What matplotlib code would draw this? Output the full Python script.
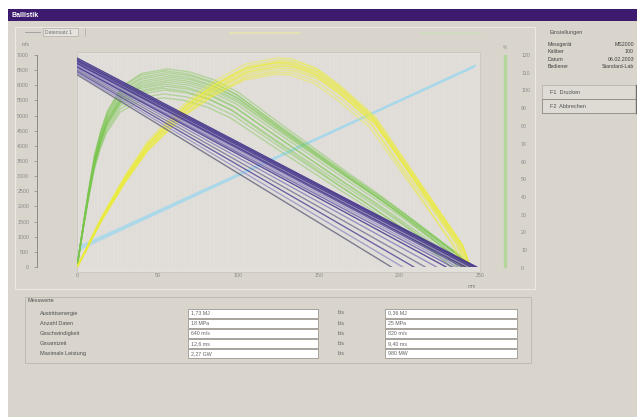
import matplotlib
matplotlib.use('Agg')
import matplotlib.pyplot as plt
import numpy as np
from matplotlib.patches import Rectangle

plt.rcParams['font.family'] = ['Liberation Sans', 'DejaVu Sans']

# --- data ---
# purple: straight falling lines, start value at x=0 and x where they reach 0
purple_start = [6900, 6850, 6820, 6800, 6770, 6750, 6720, 6700, 6660, 6620, 6600, 6550, 6500, 6450, 6400, 6350]
purple_end = [248, 247, 246, 245, 244, 243, 241, 239, 236, 233, 229, 223, 216, 209, 202, 195]
purple_colors = ['#3b2a82', '#4a3a90', '#3b2a82', '#6f62aa', '#2f2170', '#8a80bb', '#3b2a82', '#5b4c9c',
                 '#9c94c4', '#6f62aa', '#4a3a90', '#8a80bb', '#7a7898', '#5b4c9c', '#9c94c4', '#6a6a80']

# green: fast rising curves, base profile
green_x = [0, 4, 7, 11, 15, 19, 28, 40, 56, 70, 85, 100, 126, 150, 170, 188, 205, 220, 235, 244]
green_y = [0, 1400, 2400, 3600, 4400, 5000, 5800, 6200, 6350, 6250, 6000, 5600, 4600, 3700, 2950, 2300, 1650, 1050, 450, 0]
green_yscale = [0.88, 0.90, 0.92, 0.94, 0.96, 0.97, 0.98, 0.99, 1.0, 1.01, 1.02, 1.03, 0.93, 0.95]
green_xscale = [0.95, 0.96, 0.97, 0.98, 0.99, 1.0, 1.0, 1.005, 0.99, 1.0, 0.985, 1.0, 0.95, 0.97]

# yellow: slower rising curves, base profile
yellow_x = [0, 5, 10, 15.5, 30, 44, 56, 69, 86, 106, 126, 135, 150, 164, 185, 205, 222, 239, 244]
yellow_y = [0, 500, 1050, 1620, 2940, 4030, 4690, 5350, 6000, 6570, 6770, 6740, 6450, 5900, 4920, 3370, 2050, 730, 0]
yellow_yscale = [0.94, 0.95, 0.96, 0.97, 0.98, 0.99, 1.0, 1.0, 1.01, 1.02, 0.98, 0.995]
yellow_xscale = [0.98, 0.99, 1.0, 0.995, 1.0, 1.0, 0.99, 1.0, 1.0, 0.985, 0.995, 0.975]

# light blue: rising straight lines
blue_x = [[2, 247], [3, 246]]
blue_y = [[600, 6650], [700, 6600]]

x_ticks = [0, 50, 100, 150, 200, 250]
y_ticks = list(range(0, 7001, 500))
right_ticks = list(range(0, 121, 10))

settings_labels = ['Messgerät', 'Kaliber', 'Datum', 'Bediener']
settings_values = ['MS2000', '100', '06.02.2003', 'Standard-Lab']
meas_labels = ['Austrittsenergie', 'Anzahl Daten', 'Geschwindigkeit', 'Gesamtzeit', 'Maximale Leistung']
meas_val1 = ['1,73 MJ', '18 MPa', '640 m/s', '12,6 ms', '2,27 GW']
meas_units = ['bis', 'bis', 'bis', 'bis', 'bis']
meas_val2 = ['0,36 MJ', '25 MPa', '820 m/s', '9,40 ms', '980 MW']

W, H = 637, 417
fig = plt.figure(figsize=(W / 100, H / 100), dpi=100)
fig.patch.set_facecolor('white')

# UI background layer in pixel coordinates
ui = fig.add_axes([0, 0, 1, 1], zorder=0)
ui.set_xlim(0, W)
ui.set_ylim(H, 0)
ui.axis('off')
ui.add_patch(Rectangle((8, 21), W - 8, H - 21, facecolor='#d9d5cd', edgecolor='none'))
ui.add_patch(Rectangle((8, 9), W - 8, 12, facecolor='#3c1a6e', edgecolor='none'))
ui.text(11, 15, 'Ballistik', color='white', fontsize=5, fontweight='bold', va='center')

# chart group
ui.add_patch(Rectangle((15, 27), 520, 262, facecolor='none', edgecolor='#ece9e4', lw=0.8))
ui.plot([25, 40], [32, 32], color='#9a9a9a', lw=0.6)
ui.add_patch(Rectangle((43, 28), 35, 8, facecolor='#e6e3de', edgecolor='#b0aca6', lw=0.5))
ui.text(45, 32, 'Datensatz 1', fontsize=3.6, color='#707070', va='center')
ui.plot([85, 85], [28, 36], color='#b0aca6', lw=0.5)
ui.plot([230, 300], [33, 33], color='#f0f0a0', lw=1.2, alpha=0.6)
ui.plot([420, 480], [33, 33], color='#c8e4b4', lw=1.2, alpha=0.6)
ui.text(22, 44, 'm/s', fontsize=3.5, color='#808080', va='center')
ui.add_patch(Rectangle((77, 52), 403, 220, facecolor='#e2dfdb', edgecolor='#c9c6c0', lw=0.6))
ui.text(472, 287, 'mm', fontsize=3.5, color='#808080', ha='center', va='center')

# settings panel
ui.text(549, 32, 'Einstellungen', fontsize=4, color='#505050', va='center')
for i, (lab, val) in enumerate(zip(settings_labels, settings_values)):
    yy = 44 + i * 7.6
    ui.text(548, yy, lab, fontsize=3.8, color='#404040', va='center')
    ui.text(634, yy, val, fontsize=3.8, color='#404040', va='center', ha='right')
ui.add_patch(Rectangle((542, 85), 95, 14, facecolor='#dedbd4', edgecolor='#b8b4ac', lw=0.6))
ui.add_patch(Rectangle((542, 99), 95, 14, facecolor='#dedbd4', edgecolor='#8c8880', lw=0.6))
ui.text(550, 92, 'F1  Drucken', fontsize=4, color='#505050', va='center')
ui.text(550, 106, 'F2  Abbrechen', fontsize=4, color='#505050', va='center')
ui.plot([636, 636], [85, 113], color='#707070', lw=1)

# measurement group
ui.add_patch(Rectangle((25, 297), 506, 66, facecolor='none', edgecolor='#bcb8b0', lw=0.6))
ui.text(28, 301, 'Messwerte', fontsize=4, color='#505050', va='center')
for i in range(len(meas_labels)):
    yy = 313 + i * 10.2
    ui.text(40, yy, meas_labels[i], fontsize=4, color='#505050', va='center')
    ui.add_patch(Rectangle((188, yy - 4.5), 130, 9, facecolor='white', edgecolor='#8c8880', lw=0.5))
    ui.text(191, yy, meas_val1[i], fontsize=3.8, color='#606060', va='center')
    ui.text(338, yy, meas_units[i], fontsize=3.8, color='#606060', va='center')
    ui.add_patch(Rectangle((385, yy - 4.5), 132, 9, facecolor='white', edgecolor='#8c8880', lw=0.5))
    ui.text(388, yy, meas_val2[i], fontsize=3.8, color='#606060', va='center')

# main chart
ax = fig.add_axes([77 / W, (H - 267) / H, 403 / W, 212 / H], zorder=1)
ax.patch.set_alpha(0)
ax.set_xlim(0, 250)
ax.set_ylim(0, 7000)
for v in range(0, 251, 2):
    ax.axvline(v, color='#d9d6d2', lw=0.3, zorder=0)

for x, y in zip(blue_x, blue_y):
    ax.plot(x, y, color='#a6d8ea', lw=1.6, alpha=0.85, solid_capstyle='round')

gx = np.array(green_x)
gy = np.array(green_y)
for sy, sx in zip(green_yscale, green_xscale):
    ax.plot(gx * sx, gy * sy, color='#78c64c', lw=1.0, alpha=0.45)

yx = np.array(yellow_x)
yy_ = np.array(yellow_y)
for sy, sx in zip(yellow_yscale, yellow_xscale):
    ax.plot(yx * sx, yy_ * sy, color='#ecec3a', lw=1.1, alpha=0.45)

for s, e, c in zip(purple_start, purple_end, purple_colors):
    ax.plot([0, e], [s, 0], color=c, lw=1.0, alpha=0.85)

ax.set_xticks(x_ticks)
ax.set_yticks(y_ticks)
ax.tick_params(labelsize=3.8, colors='#8a8a8a', length=2, width=0.5)
ax.tick_params(axis='x', length=0, pad=4)
ax.spines['left'].set_position(('outward', 29))
ax.spines['left'].set_color('#8a8a8a')
ax.spines['left'].set_linewidth(0.7)
for sp in ['top', 'right', 'bottom']:
    ax.spines[sp].set_visible(False)

# right scale
ax2 = fig.add_axes([500 / W, (H - 268) / H, 10 / W, 213 / H], zorder=1)
ax2.patch.set_alpha(0)
ax2.set_ylim(0, 120)
ax2.set_xlim(0, 1)
ax2.axvline(0.5, color='#b4d69c', lw=2.5)
ax2.set_xticks([])
ax2.set_yticks(right_ticks)
ax2.yaxis.tick_right()
ax2.tick_params(labelsize=3.8, colors='#8a8a8a', length=0, pad=8)
for sp in ax2.spines.values():
    sp.set_visible(False)
ax2.text(0.5, 1.03, '%', transform=ax2.transAxes, fontsize=3.5, color='#909090', ha='center')

plt.savefig('out.png', dpi=100)
plt.close()
